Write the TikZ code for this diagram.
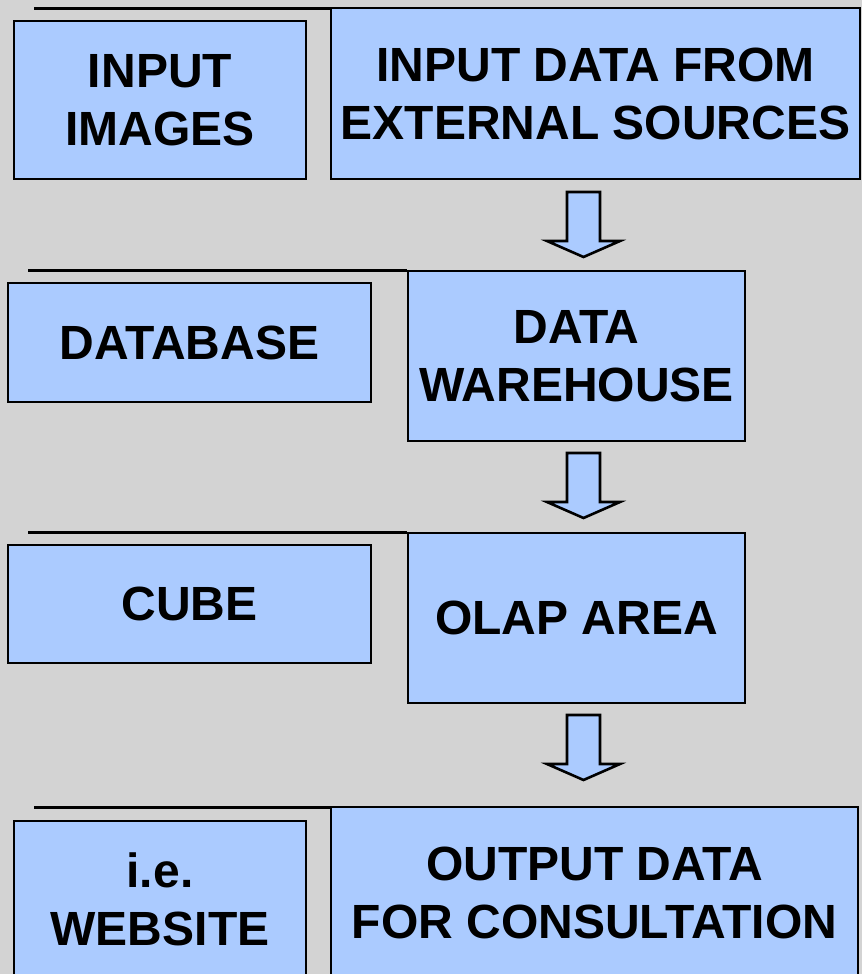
\documentclass[tikz,border=0pt]{standalone}
\usepackage{fontspec}
\setmainfont{Liberation Sans}
\definecolor{panelbg}{RGB}{211,211,211}
\definecolor{boxfill}{RGB}{171,203,255}
\tikzset{
  stage/.style={draw=black, line width=2.8bp, fill=boxfill, inner sep=0pt,
    align=center, font=\fontsize{48bp}{58bp}\selectfont\bfseries},
  rowrule/.style={draw=black, line width=3bp},
  downarrow/.pic={
    \draw[line width=2.6bp, fill=boxfill, line join=miter]
      (-16.5,0) -- (16.5,0) -- (16.5,49) -- (36.5,49) -- (0,65)
      -- (-36.5,49) -- (-16.5,49) -- cycle;
  }
}
\begin{document}
\begin{tikzpicture}[x=1bp, y=-1bp]
  \fill[panelbg] (0,0) rectangle (862,974);
  \useasboundingbox (0,0) rectangle (862,974);
  \begin{scope}
    \clip (0,0) rectangle (862,974);

    % row 1: inputs
    \node[stage, minimum width=292bp, minimum height=158bp] (img) at (160,100) {INPUT\\IMAGES};
    \node[stage, minimum width=529bp, minimum height=171bp] (src) at (595.5,93.5) {INPUT DATA FROM\\EXTERNAL SOURCES};
    \coordinate (r1) at (34,8);
    \draw[rowrule] (r1) -- (r1 -| src.north west);

    \pic at (583.5,192) {downarrow};

    % row 2: storage
    \node[stage, minimum width=363bp, minimum height=119bp] (db) at (189.5,342.5) {DATABASE};
    \node[stage, minimum width=337bp, minimum height=170bp] (dw) at (576.5,356) {DATA\\WAREHOUSE};
    \coordinate (r2) at (28,270);
    \draw[rowrule] (r2) -- (r2 -| dw.north west);

    \pic at (583.5,453) {downarrow};

    % row 3: analysis
    \node[stage, minimum width=363bp, minimum height=118bp] (cube) at (189.5,604) {CUBE};
    \node[stage, minimum width=337bp, minimum height=170bp] (olap) at (576.5,618) {OLAP AREA};
    \coordinate (r3) at (28,532);
    \draw[rowrule] (r3) -- (r3 -| olap.north west);

    \pic at (583.5,715) {downarrow};

    % row 4: output
    \node[stage, minimum width=292bp, minimum height=156bp] (web) at (160,899) {i.e.\\WEBSITE};
    \node[stage, minimum width=527bp, minimum height=171bp] (out) at (594.5,892.5) {OUTPUT DATA\\FOR CONSULTATION};
    \coordinate (r4) at (34,807);
    \draw[rowrule] (r4) -- (r4 -| out.north west);
  \end{scope}
\end{tikzpicture}
\end{document}
